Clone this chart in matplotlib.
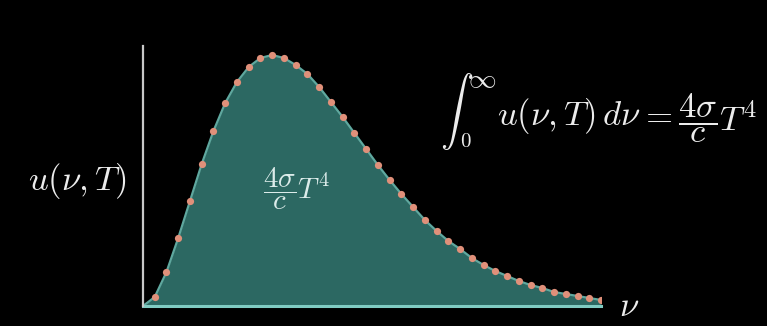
import matplotlib
matplotlib.use("Agg")
import matplotlib.pyplot as plt

plt.rcParams['mathtext.fontset'] = 'cm'

# spectral energy density u(nu, T), sampled at evenly spaced frequencies
nu = list(range(0, 40))
u = [0, 9, 34, 68, 105, 142, 175, 203, 224, 239, 248, 251, 248, 241, 232,
     219, 204, 189, 173, 157, 141, 126, 112, 99, 86, 75, 65, 57, 48, 41,
     35, 30, 25, 21, 18, 14, 12, 10, 8, 6]

W, H = 767, 326
BG = '#000000'
FILL = '#2c6862'
EDGE = '#5fa89f'
BASE = '#80cbc2'
DOT = '#e0907a'
TXT = '#ececec'


def px(x, y):
    """pixel position (from top-left) to figure fraction"""
    return x / W, 1 - y / H


def plot(nu, u):
    fig = plt.figure(figsize=(W / 100, H / 100), dpi=100, facecolor=BG)
    ax = fig.add_axes([143 / W, 20 / H, 458 / W, 260 / H])
    ax.set_facecolor('none')
    ax.set_xlim(0, 39)
    ax.set_ylim(0, 260)

    ax.fill_between(nu, u, 0, color=FILL, lw=0, zorder=1)
    ax.plot(nu, u, color=EDGE, lw=1.6, zorder=2)
    ax.plot(nu[1:], u[1:], 'o', ms=5.2, color=DOT, mec='none', zorder=3)

    for side in ('top', 'right'):
        ax.spines[side].set_visible(False)
    ax.spines['left'].set_color('#c8c8c8')
    ax.spines['left'].set_linewidth(1.6)
    ax.spines['bottom'].set_color(BASE)
    ax.spines['bottom'].set_linewidth(2.2)
    ax.spines['left'].set_zorder(4)
    ax.set_xticks([])
    ax.set_yticks([])

    # axis labels
    fig.text(*px(77, 181), r'$u(\nu, T)$', color=TXT, fontsize=25,
             ha='center', va='center')
    fig.text(*px(619, 306), r'$\nu$', color=TXT, fontsize=25,
             ha='left', va='center')

    # area under the curve
    fig.text(*px(296, 189), r'$\dfrac{4\sigma}{c}T^4$', color='#dcecea',
             fontsize=21, ha='center', va='center')

    # Stefan-Boltzmann relation
    fig.text(*px(457, 111), r'$\int$', color=TXT, fontsize=24,
             ha='center', va='center')
    fig.text(*px(482, 79), r'$\infty$', color=TXT, fontsize=20,
             ha='center', va='center')
    fig.text(*px(466, 141), r'$0$', color=TXT, fontsize=15,
             ha='center', va='center')
    fig.text(*px(497, 125), r'$u(\nu, T)\,d\nu$', color=TXT, fontsize=25,
             ha='left', va='baseline')
    fig.text(*px(656, 125), r'$=$', color=TXT, fontsize=25,
             ha='center', va='baseline')
    fig.text(*px(678, 118), r'$\dfrac{4\sigma}{c}T^4$', color=TXT,
             fontsize=25, ha='left', va='center')

    fig.savefig('out.png', dpi=100, facecolor=BG)


if __name__ == "__main__":
    plot(nu, u)
